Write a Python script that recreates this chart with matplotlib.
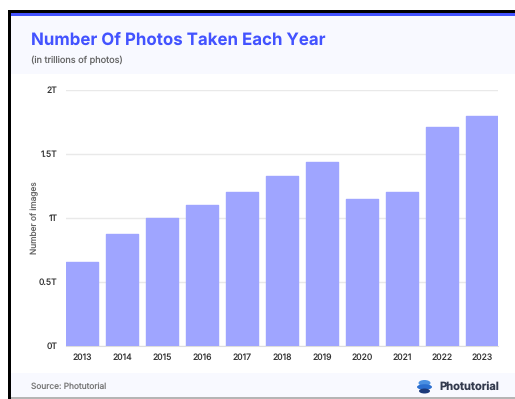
import matplotlib
matplotlib.use('Agg')
from matplotlib import pyplot as plt
from matplotlib.patches import Ellipse, Rectangle

years = ['2013', '2014', '2015', '2016', '2017', '2018', '2019', '2020', '2021', '2022', '2023']
photos = [0.66, 0.875, 1.0, 1.1, 1.2, 1.33, 1.44, 1.15, 1.2, 1.71, 1.8]
tick_values = [0, 0.5, 1, 1.5, 2]
tick_labels = ['0T', '0.5T', '1T', '1.5T', '2T']

WIDTH, HEIGHT = 515, 399
BLUE = '#4353ff'
BAR = '#9fa5ff'
PALE = '#f8f9ff'

plt.rcParams['font.family'] = ['Inter', 'DejaVu Sans']
# unhinted glyphs keep the dot in 1.5T visible at this small size
plt.rcParams['text.hinting'] = 'no_hinting'
plt.rcParams['text.hinting_factor'] = 1

fig = plt.figure(figsize=(WIDTH / 100, HEIGHT / 100), dpi=100, facecolor='white')

# background layer in pixel coordinates, y going down
bg = fig.add_axes([0, 0, 1, 1])
bg.set_xlim(0, WIDTH)
bg.set_ylim(HEIGHT, 0)
bg.axis('off')


def band(x, y, w, h, color):
    bg.add_patch(Rectangle((x, y), w, h, facecolor=color, edgecolor='none'))


band(10, 15, WIDTH - 10, 59, PALE)
band(10, 372.5, WIDTH - 10, 25, PALE)
band(8, 9.5, WIDTH - 8, 3, '#000000')
band(8, 9.5, 2.7, 390, '#000000')
band(10.7, 12.5, WIDTH - 10.7, 3, BLUE)
band(10.7, 397, WIDTH - 10.7, 1.5, '#b5b5b5')

bg.text(31, 40.5, 'Number Of Photos Taken Each Year', color=BLUE, fontsize=12.15,
        fontweight='bold', va='center', ha='left')
bg.text(31, 60, '(in trillions of photos)', color='#666666', fontsize=6.6, va='center', ha='left')
bg.text(31, 387, 'Source: Photutorial', color='#777777', fontsize=6, va='center', ha='left')
bg.text(439, 387, 'Photutorial', color='#333a4d', fontsize=8, fontweight='bold', va='center', ha='left')

# stacked logo layers
bg.add_patch(Ellipse((424.5, 383), 12, 6, facecolor='#4a90e2', edgecolor='none'))
bg.add_patch(Ellipse((424.5, 387), 15, 5.5, facecolor='#2b6fd0', edgecolor='none'))
bg.add_patch(Ellipse((424.5, 391), 11, 5, facecolor='#1c3a7a', edgecolor='none'))

ax = fig.add_axes([66 / WIDTH, 1 - 346 / HEIGHT, 432 / WIDTH, 256 / HEIGHT])
ax.patch.set_alpha(0)
positions = list(range(len(years)))
# a thin round-joined edge softens the bar corners
ax.bar(positions, photos, width=0.79, color=BAR, edgecolor=BAR, linewidth=1,
       joinstyle='round', zorder=3)
ax.set_xlim(-0.4, 10.4)
ax.set_ylim(0, 2)
ax.set_xticks(positions, years)
ax.set_yticks(tick_values, tick_labels)
ax.grid(axis='y', color='#e9e9e9', linewidth=1, zorder=0)
ax.tick_params(length=0, labelsize=6.2, labelcolor='#333333')
ax.tick_params(axis='x', pad=5)
ax.tick_params(axis='y', pad=6)
for side in ['top', 'right', 'left']:
    ax.spines[side].set_visible(False)
ax.spines['bottom'].set_color('#dddddd')
ax.set_ylabel('Number of images', fontsize=6, color='#666666', labelpad=0)
ax.yaxis.set_label_coords(-27 / 432, 0.5)

fig.savefig('out.png', dpi=100)
